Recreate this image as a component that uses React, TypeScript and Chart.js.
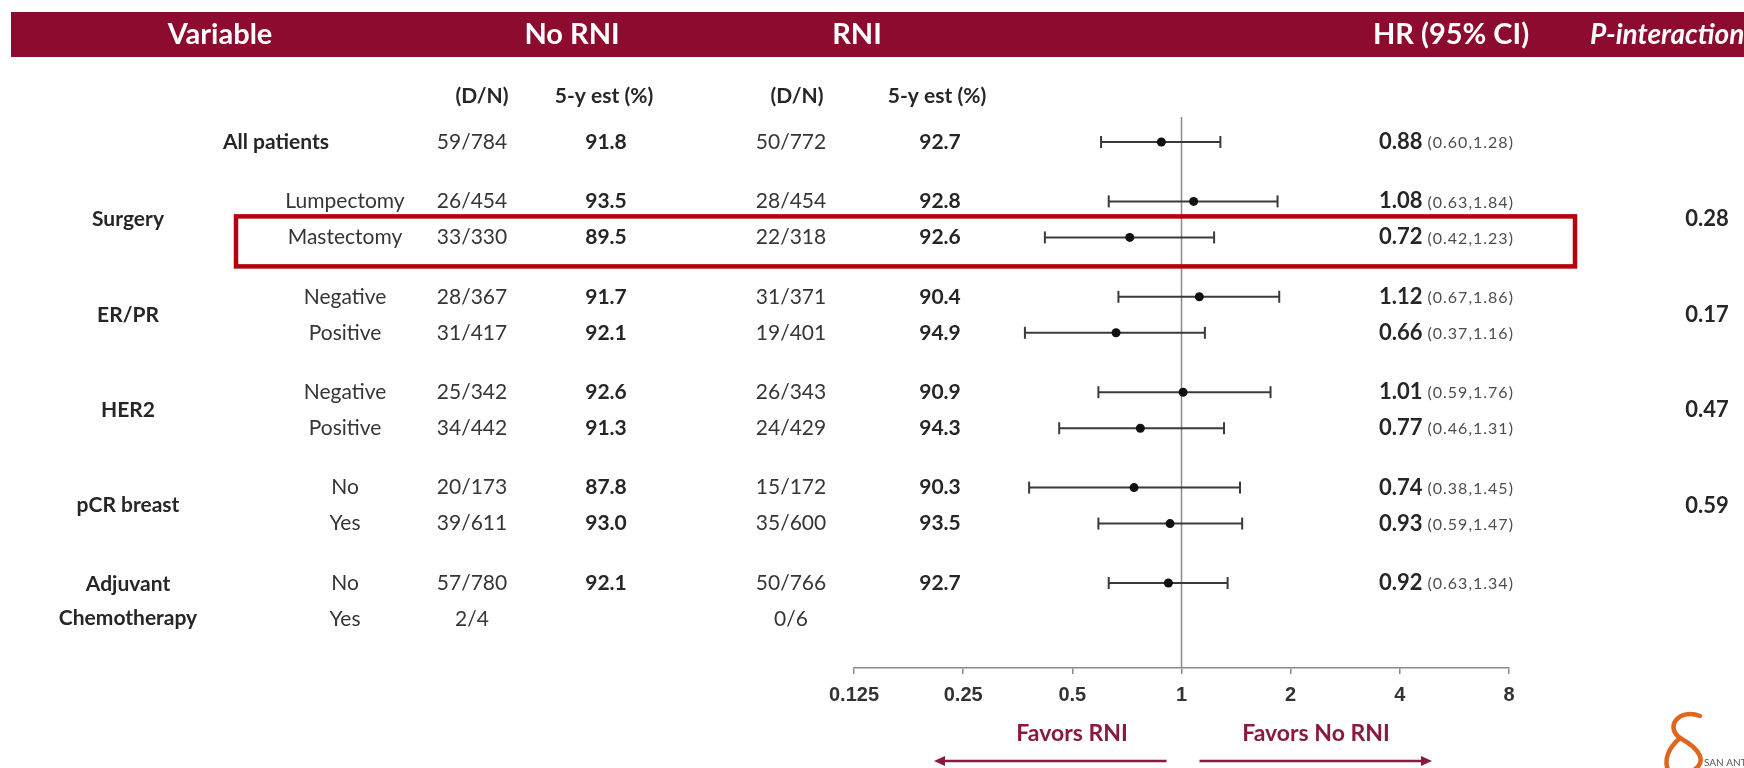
import React, { useEffect, useRef } from 'react';
import { Chart, registerables } from 'chart.js';

Chart.register(...registerables);

// ---- Table content ----
const GROUP_LABELS = ['All patients', 'Surgery', 'ER/PR', 'HER2', 'pCR breast', 'Adjuvant\nChemotherapy'];
const P_INTERACTION = ['', '0.28', '0.17', '0.47', '0.59', ''];
const ROW_GROUP = [0, 1, 1, 2, 2, 3, 3, 4, 4, 5, 5];
const SUBGROUPS = ['', 'Lumpectomy', 'Mastectomy', 'Negative', 'Positive', 'Negative', 'Positive', 'No', 'Yes', 'No', 'Yes'];
const NO_RNI_DN = ['59/784', '26/454', '33/330', '28/367', '31/417', '25/342', '34/442', '20/173', '39/611', '57/780', '2/4'];
const NO_RNI_EST = ['91.8', '93.5', '89.5', '91.7', '92.1', '92.6', '91.3', '87.8', '93.0', '92.1', ''];
const RNI_DN = ['50/772', '28/454', '22/318', '31/371', '19/401', '26/343', '24/429', '15/172', '35/600', '50/766', '0/6'];
const RNI_EST = ['92.7', '92.8', '92.6', '90.4', '94.9', '90.9', '94.3', '90.3', '93.5', '92.7', ''];

// ---- Hazard ratios ----
const HR: (number | null)[] = [0.88, 1.08, 0.72, 1.12, 0.66, 1.01, 0.77, 0.74, 0.93, 0.92, null];
const HR_LOW: (number | null)[] = [0.6, 0.63, 0.42, 0.67, 0.37, 0.59, 0.46, 0.38, 0.59, 0.63, null];
const HR_HIGH: (number | null)[] = [1.28, 1.84, 1.23, 1.86, 1.16, 1.76, 1.31, 1.45, 1.47, 1.34, null];
const HIGHLIGHT_ROW = 2;

const X_TICKS = [0.125, 0.25, 0.5, 1, 2, 4, 8];

// ---- Layout ----
const W = 1744;
const H = 768;
const GROUP_GAP = 1.65; // vertical gap between groups, in row units
const ROW_PX = 36; // pixel height of one row unit
const AREA_TOP = 117;
const AREA_BOTTOM = 668;
const FIRST_ROW_PX = 142;
const Y_MIN = -(FIRST_ROW_PX - AREA_TOP) / ROW_PX;
const Y_MAX = Y_MIN + (AREA_BOTTOM - AREA_TOP) / ROW_PX;

const ROW_SLOT: number[] = [];
ROW_GROUP.forEach((g, i) => {
  if (i === 0) ROW_SLOT.push(0);
  else ROW_SLOT.push(ROW_SLOT[i - 1] + (g === ROW_GROUP[i - 1] ? 1 : GROUP_GAP));
});

const CRIMSON = '#8e0b30';
const TEXT = '#262626';
const TEXT_REG = '#363636';
const FONT = 'Lato, "Open Sans", sans-serif';

const COL = {
  group: 128,
  sub: 345,
  noDn: 472,
  noEst: 606,
  rniDn: 791,
  rniEst: 940,
  hr: 1379,
  p: 1707,
};

const fmt = (v: number) => v.toFixed(2);

const pageDecor = {
  id: 'pageDecor',
  beforeDraw(chart: any) {
    const { ctx } = chart;
    ctx.save();
    ctx.fillStyle = '#ffffff';
    ctx.fillRect(0, 0, W, H);
    // header band
    ctx.fillStyle = CRIMSON;
    ctx.fillRect(11, 12, W - 11, 45);
    ctx.fillStyle = '#ffffff';
    ctx.textBaseline = 'middle';
    ctx.textAlign = 'center';
    ctx.font = `bold 29px ${FONT}`;
    ctx.fillText('Variable', 220, 35);
    ctx.fillText('No RNI', 572, 35);
    ctx.fillText('RNI', 857, 35);
    ctx.fillText('HR (95% CI)', 1451, 35);
    ctx.textAlign = 'left';
    ctx.font = `italic bold 28px ${FONT}`;
    ctx.fillText('P-interaction', 1590, 35);
    ctx.restore();
  },
  beforeDatasetsDraw(chart: any) {
    const { ctx, chartArea, scales } = chart;
    const x1 = scales.x.getPixelForValue(1);
    ctx.save();
    ctx.strokeStyle = '#8a8a8a';
    ctx.lineWidth = 1.5;
    ctx.beginPath();
    ctx.moveTo(x1, chartArea.top);
    ctx.lineTo(x1, chartArea.bottom);
    ctx.stroke();
    ctx.restore();
  },
  afterDraw(chart: any) {
    const { ctx, scales } = chart;
    const yOf = (i: number) => scales.y.getPixelForValue(ROW_SLOT[i]);
    ctx.save();
    ctx.textBaseline = 'middle';

    // column sub-headers
    ctx.fillStyle = TEXT;
    ctx.font = `bold 21px ${FONT}`;
    ctx.textAlign = 'center';
    ctx.fillText('(D/N)', 482, 96);
    ctx.fillText('5-y est (%)', 604, 96);
    ctx.fillText('(D/N)', 797, 96);
    ctx.fillText('5-y est (%)', 937, 96);

    // group labels and interaction p-values
    GROUP_LABELS.forEach((label, g) => {
      const rows = ROW_GROUP.map((gg, i) => (gg === g ? i : -1)).filter((i) => i >= 0);
      const yMid = rows.reduce((s, i) => s + yOf(i), 0) / rows.length;
      ctx.fillStyle = TEXT;
      ctx.font = `bold 21px ${FONT}`;
      if (rows.length === 1 && !SUBGROUPS[rows[0]]) {
        ctx.textAlign = 'right';
        ctx.fillText(label, 329, yMid);
      } else {
        ctx.textAlign = 'center';
        const lines = label.split('\n');
        lines.forEach((ln, k) => {
          ctx.fillText(ln, COL.group, yMid + (k - (lines.length - 1) / 2) * 34);
        });
      }
      if (P_INTERACTION[g]) {
        ctx.textAlign = 'center';
        ctx.font = `bold 22px ${FONT}`;
        ctx.fillText(P_INTERACTION[g], COL.p, yMid);
      }
    });

    // row cells
    ROW_GROUP.forEach((_, i) => {
      const y = yOf(i);
      ctx.textAlign = 'center';
      ctx.fillStyle = TEXT_REG;
      ctx.font = `21px ${FONT}`;
      if (SUBGROUPS[i]) ctx.fillText(SUBGROUPS[i], COL.sub, y);
      ctx.fillText(NO_RNI_DN[i], COL.noDn, y);
      ctx.fillText(RNI_DN[i], COL.rniDn, y);
      ctx.fillStyle = TEXT;
      ctx.font = `bold 21px ${FONT}`;
      if (NO_RNI_EST[i]) ctx.fillText(NO_RNI_EST[i], COL.noEst, y);
      if (RNI_EST[i]) ctx.fillText(RNI_EST[i], COL.rniEst, y);
      const hr = HR[i];
      if (hr != null) {
        ctx.textAlign = 'left';
        const main = fmt(hr);
        ctx.font = `bold 22px ${FONT}`;
        ctx.fillText(main, COL.hr, y);
        const w = ctx.measureText(main).width;
        ctx.font = `16px ${FONT}`;
        ctx.fillStyle = '#4d4d4d';
        (ctx as any).letterSpacing = '1px';
        ctx.fillText(`(${fmt(HR_LOW[i] as number)},${fmt(HR_HIGH[i] as number)})`, COL.hr + w + 5, y + 1);
        (ctx as any).letterSpacing = '0px';
      }
    });

    // highlight box around one subgroup row
    const yh = yOf(HIGHLIGHT_ROW);
    ctx.strokeStyle = '#b5000c';
    ctx.lineWidth = 4.5;
    ctx.strokeRect(236, yh - 21, 1575 - 236, 50);

    // direction labels with arrows
    const x1 = scales.x.getPixelForValue(1);
    ctx.fillStyle = '#8a1a3c';
    ctx.strokeStyle = '#8a1a3c';
    ctx.font = `bold 23px ${FONT}`;
    ctx.textAlign = 'center';
    ctx.fillText('Favors RNI', 1072, 734);
    ctx.fillText('Favors No RNI', 1316, 734);
    ctx.lineWidth = 2.5;
    const arrow = (from: number, to: number, yy: number) => {
      const dir = Math.sign(to - from);
      ctx.beginPath();
      ctx.moveTo(from, yy);
      ctx.lineTo(to - dir * 8, yy);
      ctx.stroke();
      ctx.beginPath();
      ctx.moveTo(to, yy);
      ctx.lineTo(to - dir * 11, yy - 5);
      ctx.lineTo(to - dir * 11, yy + 5);
      ctx.closePath();
      ctx.fill();
    };
    arrow(x1 - 15, 934, 761);
    arrow(x1 + 18, 1432, 761);

    // conference mark, bottom right
    ctx.strokeStyle = '#e0651f';
    ctx.lineWidth = 4.5;
    ctx.lineCap = 'round';
    ctx.beginPath();
    ctx.moveTo(1700, 716);
    ctx.bezierCurveTo(1680, 708, 1664, 726, 1680, 738);
    ctx.bezierCurveTo(1702, 750, 1706, 762, 1694, 770);
    ctx.stroke();
    ctx.beginPath();
    ctx.moveTo(1680, 738);
    ctx.bezierCurveTo(1668, 748, 1664, 760, 1668, 770);
    ctx.stroke();
    ctx.fillStyle = '#555555';
    ctx.font = `10px ${FONT}`;
    ctx.textAlign = 'left';
    ctx.fillText('SAN ANTONIO', 1704, 763);
    ctx.restore();
  },
};

function buildConfig(): any {
  const pointData = HR.map((v, i) => (v == null ? null : { x: v, y: ROW_SLOT[i] })).filter(Boolean);
  const ciSets = HR.map((v, i) =>
    v == null
      ? null
      : {
          data: [
            { x: HR_LOW[i], y: ROW_SLOT[i] },
            { x: HR_HIGH[i], y: ROW_SLOT[i] },
          ],
          showLine: true,
          borderColor: '#3a3a3a',
          borderWidth: 2,
          pointStyle: 'line',
          pointRotation: 90,
          pointRadius: 6,
          pointBorderColor: '#3a3a3a',
          pointBorderWidth: 2,
          order: 2,
        }
  ).filter(Boolean);

  return {
    type: 'scatter',
    data: {
      datasets: [
        ...ciSets,
        {
          data: pointData,
          pointRadius: 4.5,
          pointBackgroundColor: '#111111',
          pointBorderColor: '#111111',
          pointBorderWidth: 0,
          order: 1,
        },
      ],
    },
    options: {
      responsive: false,
      animation: false,
      events: [],
      layout: { padding: { left: 854, right: W - 1509, top: AREA_TOP, bottom: 0 } },
      plugins: { legend: { display: false }, tooltip: { enabled: false } },
      scales: {
        x: {
          type: 'logarithmic',
          position: 'bottom',
          min: 0.125,
          max: 8,
          afterBuildTicks: (s: any) => {
            s.ticks = X_TICKS.map((v) => ({ value: v }));
          },
          afterFit: (s: any) => {
            s.height = H - AREA_BOTTOM;
          },
          ticks: {
            autoSkip: false,
            maxRotation: 0,
            padding: 9,
            color: '#333333',
            font: { family: '"Liberation Sans", Arial, sans-serif', size: 20, weight: 'bold' },
            callback: (v: any) => String(v),
          },
          grid: { drawOnChartArea: false, drawTicks: true, tickLength: 6, color: '#8a8a8a', lineWidth: 1.5 },
          border: { display: true, color: '#8a8a8a', width: 1.5 },
        },
        y: {
          type: 'linear',
          display: false,
          reverse: true,
          min: Y_MIN,
          max: Y_MAX,
        },
      },
    },
    plugins: [pageDecor],
  };
}

export default function App() {
  const ref = useRef<HTMLCanvasElement>(null);
  useEffect(() => {
    let chart: Chart | null = null;
    let cancelled = false;
    const fonts: any = (document as any).fonts;
    const ready = fonts
      ? Promise.all([
          fonts.load(`bold 20px Lato`),
          fonts.load(`20px Lato`),
          fonts.load(`italic bold 20px Lato`),
          fonts.load(`bold 19px "Liberation Sans"`),
        ]).catch(() => null)
      : Promise.resolve(null);
    ready.then(() => {
      if (cancelled || !ref.current) return;
      chart = new Chart(ref.current, buildConfig());
    });
    return () => {
      cancelled = true;
      if (chart) chart.destroy();
    };
  }, []);
  return (
    <div style={{ position: 'fixed', left: 0, top: 0, width: W, height: H, background: '#fff' }}>
      <canvas ref={ref} width={W} height={H} style={{ width: W, height: H, display: 'block' }} />
    </div>
  );
}
